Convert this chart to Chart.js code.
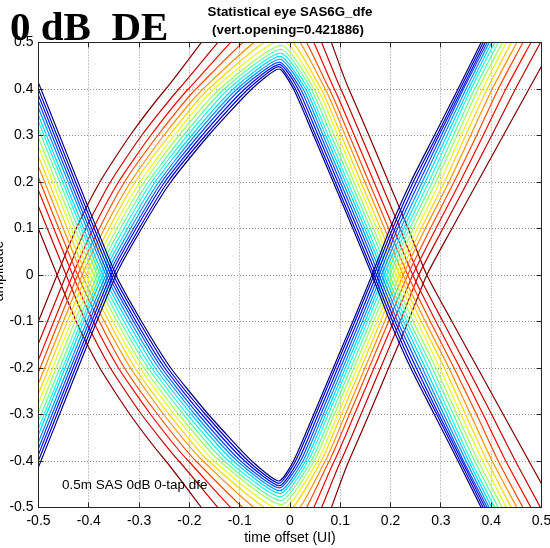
<!DOCTYPE html>
<html>
<head>
<meta charset="utf-8">
<script src="https://cdn.jsdelivr.net/npm/chart.js@4.4.1/dist/chart.umd.min.js"></script>
<style>
html,body{margin:0;padding:0;background:#fff;}
#wrap{width:550px;height:548px;position:relative;}
</style>
</head>
<body>
<div id="wrap"><canvas id="c" width="550" height="548"></canvas></div>
<script>
// ---------- axis ticks ----------
const xTickValues = [-0.5,-0.4,-0.3,-0.2,-0.1,0,0.1,0.2,0.3,0.4,0.5];
const xTickLabels = ['-0.5','-0.4','-0.3','-0.2','-0.1','0','0.1','0.2','0.3','0.4','0.5'];
const yTickValues = [-0.5,-0.4,-0.3,-0.2,-0.1,0,0.1,0.2,0.3,0.4,0.5];
const yTickLabels = ['-0.5','-0.4','-0.3','-0.2','-0.1','0','0.1','0.2','0.3','0.4','0.5'];

// ---------- contour data (16 levels, innermost blue -> outermost dark red) ----------
// amplitude at which each level's outer edge meets the left border (x = -0.5)
const leftEdgeY  = [0.413,0.399,0.386,0.373,0.359,0.343,0.330,0.314,0.295,0.276,0.255,0.233,0.209,0.182,0.147,0.099];
// time offset of the left eye crossing (amplitude 0)
const crossLeft  = [-0.346,-0.351,-0.356,-0.361,-0.366,-0.372,-0.377,-0.383,-0.390,-0.397,-0.405,-0.413,-0.422,-0.432,-0.445,-0.463];
// amplitudes of the rows used below
const rowY = [0.1,0.2,0.3,0.4];
const tailY = [0.1,0.2,0.3,0.4,0.5];
// rising edge (left crossing -> top apex), time offset at amplitude 0.1,0.2,0.3,0.4
const riseX = [
 [-0.295,-0.237,-0.162,-0.076],
 [-0.300,-0.243,-0.168,-0.083],
 [-0.306,-0.249,-0.175,-0.090],
 [-0.311,-0.255,-0.182,-0.098],
 [-0.317,-0.261,-0.189,-0.105],
 [-0.323,-0.268,-0.196,-0.113],
 [-0.330,-0.275,-0.204,-0.122],
 [-0.337,-0.282,-0.212,-0.131],
 [-0.344,-0.290,-0.221,-0.140],
 [-0.352,-0.298,-0.230,-0.151],
 [-0.360,-0.308,-0.240,-0.162],
 [-0.369,-0.317,-0.251,-0.173],
 [-0.379,-0.329,-0.263,-0.187],
 [-0.391,-0.341,-0.277,-0.202],
 [-0.406,-0.357,-0.295,-0.221],
 [-0.425,-0.378,-0.318,-0.247]
];
// eye apex
const apexX = [-0.022,-0.022,-0.021,-0.021,-0.020,-0.020,-0.019,-0.018,-0.017,-0.016,-0.015,-0.013,-0.012,-0.011,-0.010,-0.008];
const apexY = [0.443,0.448,0.453,0.458,0.464,0.470,0.477,0.485,0.494,0.505,0.520,0.540,0.565,0.600,0.640,0.700];
// falling edge (top apex -> right crossing), time offset at amplitude 0.4,0.3,0.2,0.1
const fallX = [
 [0.007,0.047,0.086,0.125],
 [0.011,0.051,0.090,0.129],
 [0.016,0.056,0.095,0.134],
 [0.021,0.061,0.100,0.139],
 [0.026,0.066,0.105,0.144],
 [0.031,0.071,0.110,0.149],
 [0.036,0.076,0.115,0.154],
 [0.042,0.082,0.121,0.160],
 [0.048,0.088,0.127,0.166],
 [0.055,0.095,0.134,0.173],
 [0.062,0.102,0.141,0.180],
 [0.070,0.110,0.149,0.188],
 [0.078,0.118,0.157,0.196],
 [0.088,0.128,0.167,0.206],
 [0.101,0.141,0.180,0.219],
 [0.117,0.157,0.196,0.235]
];
// time offset of the right eye crossing (amplitude 0)
const crossRight = [0.163,0.167,0.172,0.177,0.182,0.187,0.192,0.198,0.204,0.211,0.218,0.225,0.234,0.244,0.256,0.272];
// outer edge beyond the right crossing, time offset at |amplitude| 0.1..0.5
const tailX = [
 [0.199,0.240,0.287,0.334,0.380],
 [0.204,0.245,0.292,0.338,0.384],
 [0.209,0.251,0.296,0.342,0.388],
 [0.214,0.257,0.301,0.345,0.392],
 [0.220,0.263,0.306,0.350,0.396],
 [0.226,0.269,0.312,0.355,0.401],
 [0.232,0.276,0.318,0.360,0.407],
 [0.238,0.283,0.325,0.367,0.414],
 [0.245,0.290,0.332,0.374,0.422],
 [0.253,0.298,0.340,0.383,0.430],
 [0.261,0.307,0.349,0.392,0.440],
 [0.269,0.316,0.359,0.402,0.451],
 [0.279,0.326,0.371,0.414,0.463],
 [0.290,0.338,0.384,0.429,0.479],
 [0.304,0.353,0.401,0.448,0.498],
 [0.322,0.373,0.424,0.475,0.526]
];

// ---------- styles ----------
const levelColors = ['#000080','#0000C4','#0008FF','#004CFF','#0091FF','#00D4FF','#1AFFE6','#5DFFA1',
                     '#A1FF5D','#E6FF1A','#FFD400','#FF9100','#FF4C00','#FF0800','#C40000','#800000'];
const SANS = '"Liberation Sans", Arial, Helvetica, sans-serif';
const SERIF = '"Liberation Serif", "Times New Roman", Times, serif';

// ---------- build datasets ----------
const datasets = [];
for (let k = 0; k < levelColors.length; k++) {
  const upper = [{x: -0.5, y: -leftEdgeY[k]}, {x: crossLeft[k], y: 0}];
  riseX[k].forEach((x, i) => upper.push({x, y: rowY[i]}));
  upper.push({x: apexX[k], y: apexY[k]});
  fallX[k].forEach((x, i) => upper.push({x, y: rowY[rowY.length - 1 - i]}));
  upper.push({x: crossRight[k], y: 0});
  tailX[k].forEach((x, i) => upper.push({x, y: -tailY[i]}));
  const lower = upper.map(p => ({x: p.x, y: -p.y}));
  const style = {borderColor: levelColors[k], borderWidth: 1.2, pointRadius: 0, showLine: true,
                 fill: false, tension: 0.2};
  datasets.push(Object.assign({data: upper}, style));
  datasets.push(Object.assign({data: lower}, style));
}

// ---------- decorations ----------
const decor = {
  id: 'decor',
  afterDatasetsDraw(chart) {
    const {ctx, chartArea: a, scales: {x, y}} = chart;
    ctx.save();
    ctx.strokeStyle = '#262626';
    ctx.lineWidth = 1;
    ctx.beginPath();
    xTickValues.forEach(v => {
      const p = Math.floor(x.getPixelForValue(v)) + 0.5;
      ctx.moveTo(p, a.bottom); ctx.lineTo(p, a.bottom - 5);
      ctx.moveTo(p, a.top); ctx.lineTo(p, a.top + 5);
    });
    yTickValues.forEach(v => {
      const p = Math.floor(y.getPixelForValue(v)) + 0.5;
      ctx.moveTo(a.left, p); ctx.lineTo(a.left + 5, p);
      ctx.moveTo(a.right, p); ctx.lineTo(a.right - 5, p);
    });
    ctx.stroke();
    ctx.strokeRect(a.left, a.top, a.right - a.left, a.bottom - a.top);
    ctx.restore();
  },
  afterDraw(chart) {
    const {ctx, chartArea: a} = chart;
    ctx.save();
    ctx.fillStyle = '#000';
    // annotation inside the plot
    ctx.font = '13.5px ' + SANS;
    ctx.textAlign = 'left';
    ctx.textBaseline = 'middle';
    ctx.fillText('0.5m SAS 0dB 0-tap dfe', 62, 485);
    // title
    ctx.font = 'bold 13.3px ' + SANS;
    ctx.textAlign = 'center';
    ctx.fillText('Statistical eye SAS6G_dfe', 290, 12);
    ctx.fillText('(vert.opening=0.421886)', 288, 30);
    // big label
    ctx.font = 'bold 41px ' + SERIF;
    ctx.textAlign = 'left';
    ctx.textBaseline = 'alphabetic';
    ctx.fillText('0 dB  DE', 10, 40);
    // y axis title, partly cut by the left border
    ctx.font = '14px ' + SANS;
    ctx.translate(3, (a.top + a.bottom) / 2 - 4);
    ctx.rotate(-Math.PI / 2);
    ctx.textAlign = 'center';
    ctx.fillText('amplitude', 0, 0);
    ctx.restore();
  }
};

new Chart(document.getElementById('c'), {
  type: 'scatter',
  data: {datasets},
  options: {
    responsive: false,
    devicePixelRatio: 1,
    animation: false,
    events: [],
    layout: {padding: {left: 0, right: 8.5, top: 42.5, bottom: 0}},
    elements: {line: {capBezierPoints: false}},
    plugins: {legend: {display: false}, tooltip: {enabled: false}, title: {display: false}},
    scales: {
      x: {
        type: 'linear', min: -0.5, max: 0.5,
        afterBuildTicks: s => { s.ticks = xTickValues.map(v => ({value: v})); },
        afterFit: s => { s.height = 40.5; s.paddingLeft = 0; s.paddingRight = 0; },
        ticks: {callback: (v, i) => xTickLabels[i], autoSkip: false, maxRotation: 0,
                color: '#000', font: {family: SANS, size: 14}, padding: 5},
        grid: {color: '#8c8c8c', lineWidth: 1, drawTicks: false},
        border: {display: true, color: '#262626', width: 1, dash: [1, 2]},
        title: {display: true, text: 'time offset (UI)', color: '#000',
                font: {family: SANS, size: 14}, padding: {top: 0, bottom: 1}}
      },
      y: {
        type: 'linear', min: -0.5, max: 0.5,
        afterBuildTicks: s => { s.ticks = yTickValues.map(v => ({value: v})); },
        afterFit: s => { s.width = 38.5; s.paddingTop = 0; s.paddingBottom = 0; },
        ticks: {callback: (v, i) => yTickLabels[i], autoSkip: false,
                color: '#000', font: {family: SANS, size: 14}, padding: 5},
        grid: {color: '#8c8c8c', lineWidth: 1, drawTicks: false},
        border: {display: true, color: '#262626', width: 1, dash: [1, 2]}
      }
    }
  },
  plugins: [decor]
});
</script>
</body>
</html>
